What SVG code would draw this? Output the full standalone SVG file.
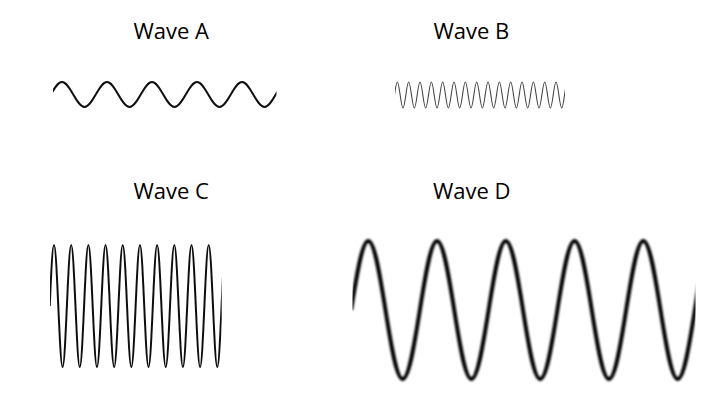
<svg xmlns="http://www.w3.org/2000/svg" xmlns:xlink="http://www.w3.org/1999/xlink" width="718" height="420" viewBox="0 0 718 420">
<style>
.lbl{font-family:"Open Sans","Liberation Sans",sans-serif;font-size:22px;fill:#000;text-anchor:middle}
.w{fill:none;stroke-linecap:butt;stroke-linejoin:round}
</style>
<defs>
<path id="sine" vector-effect="non-scaling-stroke" d="M0 0C.3343 -.5251 .6449 -1 1 -1S1.6657 -.5251 2 0S2.6449 1 3 1S3.6657 .5251 4 0S4.6449 -1 5 -1S5.6657 -.5251 6 0S6.6449 1 7 1S7.6657 .5251 8 0S8.6449 -1 9 -1S9.6657 -.5251 10 0S10.6449 1 11 1S11.6657 .5251 12 0S12.6449 -1 13 -1S13.6657 -.5251 14 0S14.6449 1 15 1S15.6657 .5251 16 0S16.6449 -1 17 -1S17.6657 -.5251 18 0S18.6449 1 19 1S19.6657 .5251 20 0S20.6449 -1 21 -1S21.6657 -.5251 22 0S22.6449 1 23 1S23.6657 .5251 24 0S24.6449 -1 25 -1S25.6657 -.5251 26 0S26.6449 1 27 1S27.6657 .5251 28 0S28.6449 -1 29 -1S29.6657 -.5251 30 0S30.6449 1 31 1S31.6657 .5251 32 0S32.6449 -1 33 -1S33.6657 -.5251 34 0S34.6449 1 35 1S35.6657 .5251 36 0S36.6449 -1 37 -1S37.6657 -.5251 38 0S38.6449 1 39 1S39.6657 .5251 40 0S40.6449 -1 41 -1S41.6657 -.5251 42 0S42.6449 1 43 1S43.6657 .5251 44 0S44.6449 -1 45 -1S45.6657 -.5251 46 0S46.6449 1 47 1S47.6657 .5251 48 0S48.6449 -1 49 -1S49.6657 -.5251 50 0S50.6449 1 51 1S51.6657 .5251 52 0S52.6449 -1 53 -1S53.6657 -.5251 54 0S54.6449 1 55 1S55.6657 .5251 56 0S56.6449 -1 57 -1S57.6657 -.5251 58 0S58.6449 1 59 1S59.6657 .5251 60 0S60.6449 -1 61 -1S61.6657 -.5251 62 0S62.6449 1 63 1S63.6657 .5251 64 0S64.6449 -1 65 -1S65.6657 -.5251 66 0S66.6449 1 67 1S67.6657 .5251 68 0"/>
<clipPath id="clipA" clipPathUnits="userSpaceOnUse"><rect x="53" y="60" width="223.5" height="60"/></clipPath>
<clipPath id="clipB" clipPathUnits="userSpaceOnUse"><rect x="395" y="60" width="170" height="60"/></clipPath>
<clipPath id="clipC" clipPathUnits="userSpaceOnUse"><rect x="50" y="230" width="171.7" height="150"/></clipPath>
<clipPath id="clipD" clipPathUnits="userSpaceOnUse"><rect x="352.5" y="220" width="343" height="180"/></clipPath>
<filter id="soft" x="-5%" y="-10%" width="110%" height="120%"><feGaussianBlur stdDeviation="0.9"/></filter>
<filter id="soft2" x="-5%" y="-10%" width="110%" height="120%"><feGaussianBlur stdDeviation="0.35"/></filter>
</defs>
<g id="waveA">
<text class="lbl" x="171.2" y="39.4">Wave A</text>
<g clip-path="url(#clipA)"><use xlink:href="#sine" class="w" stroke="#111" stroke-width="2" transform="translate(50.75 94.5) scale(11.25 12.5)"/></g>
</g>
<g id="waveB">
<text class="lbl" x="471.3" y="39.4">Wave B</text>
<g clip-path="url(#clipB)"><use xlink:href="#sine" class="w" stroke="#444" stroke-width="1.1" transform="translate(394.5 95) scale(2.834 13)"/></g>
</g>
<g id="waveC">
<text class="lbl" x="171.2" y="199.4">Wave C</text>
<g clip-path="url(#clipC)"><g filter="url(#soft2)"><use xlink:href="#sine" class="w" stroke="#111" stroke-width="2" transform="translate(49.7 306) scale(4.297 61)"/></g></g>
</g>
<g id="waveD">
<text class="lbl" x="471.7" y="199.4">Wave D</text>
<g clip-path="url(#clipD)"><g filter="url(#soft)"><use xlink:href="#sine" class="w" stroke="#000" stroke-width="4" transform="translate(351.1 310) scale(17.19 69)"/></g></g>
</g>
</svg>
